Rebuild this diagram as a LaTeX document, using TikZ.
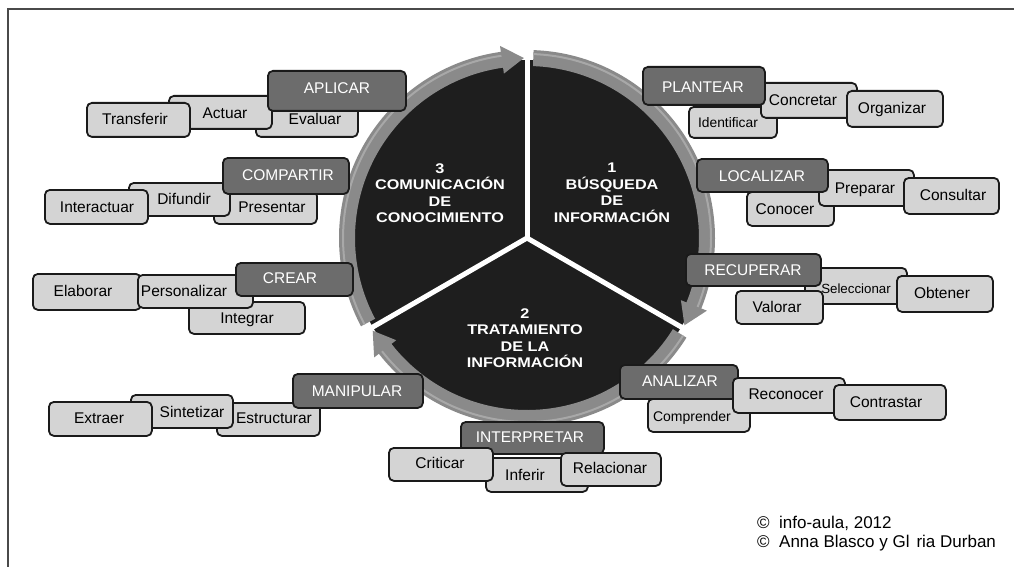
\documentclass[tikz,border=0pt]{standalone}
\usepackage{fontspec}
\setmainfont{Liberation Sans}
\usepackage{graphicx}
\definecolor{boxlight}{HTML}{D4D4D4}
\definecolor{boxdark}{HTML}{6C6C6C}
\definecolor{boxline}{HTML}{1A1A1A}
\definecolor{ringgray}{HTML}{8A8A8A}
\definecolor{ringlight}{HTML}{A8A8A8}
\definecolor{pieDark}{HTML}{1E1E1E}
\definecolor{framecol}{HTML}{4A4A4A}
\newcommand\wideline[1]{\scalebox{1.16}[1]{#1}}
\newcommand\bx[9]{%
  \node[#1, minimum width={#5-#3}, minimum height={#6-#4}, anchor=north west] (#2box) at (#3,#4) {};
  \node[#1txt] (#2) at (#7,#8) {#9};}
\begin{document}
\begin{tikzpicture}[x=1pt,y=-1pt,
  lb/.style={draw=boxline, line width=1.8pt, fill=boxlight, rounded corners=5pt, inner sep=0pt},
  db/.style={draw=boxline, line width=1.8pt, fill=boxdark, rounded corners=5pt, inner sep=0pt},
  lbtxt/.style={font=\fontsize{15.5}{18}\selectfont, text=black, inner sep=0pt, text height=11pt, text depth=0pt},
  dbtxt/.style={font=\fontsize{15.5}{18}\selectfont, text=white, inner sep=0pt, text height=11pt, text depth=0pt},
  sectxt/.style={font=\fontsize{14}{16.5}\selectfont\bfseries, text=white, align=center, inner sep=0pt},
  ringband/.style={fill=ringgray},
  gapline/.style={draw=white, line width=5pt},
  credit/.style={font=\fontsize{17}{20}\selectfont, anchor=west, inner sep=0pt}
]
\useasboundingbox[fill=white] (0,0) rectangle (1014,567);
\draw[framecol, line width=1.2pt] (8,567) -- (8,9) -- (1014,9);

% the cycle
\begin{scope}[shift={(527,238)}, y=1pt]
  \fill[pieDark] (0,0) circle[radius=178];
  \foreach \sa/\ea in {88/-22, 208/98, 328/218}{
    \fill[ringband] (\sa:172) -- (\sa:188) arc[start angle=\sa, end angle=\ea, radius=188]
      -- (\ea:194) -- ({\ea-7}:180) -- (\ea:166) -- (\ea:172)
      arc[start angle=\ea, end angle=\sa, radius=172] -- cycle;
    \draw[ringlight, line width=2pt] (\sa:184) arc[start angle=\sa, end angle=\ea, radius=184];
  }
  \draw[gapline] (0,0) -- (90:200);
  \draw[gapline] (0,0) -- (210:200);
  \draw[gapline] (0,0) -- (330:200);
\end{scope}

\node[sectxt] (s3) at (440,193) {\wideline{3}\\\wideline{COMUNICACIÓN}\\\wideline{DE}\\\wideline{CONOCIMIENTO}};
\node[sectxt] (s1) at (612,193) {\wideline{1}\\\wideline{BÚSQUEDA}\\\wideline{DE}\\\wideline{INFORMACIÓN}};
\node[sectxt] (s2) at (525,338) {\wideline{2}\\\wideline{TRATAMIENTO}\\\wideline{DE LA}\\\wideline{INFORMACIÓN}};

% APLICAR
\bx{lb}{evaluar}{255}{103}{357}{136}{315}{119}{Evaluar}
\bx{lb}{actuar}{168}{95}{271}{128}{225}{113}{Actuar}
\bx{lb}{transferir}{86}{102}{189}{136}{135}{119}{Transferir}
\bx{db}{aplicar}{267}{70}{405}{110}{337}{88}{APLICAR}
% COMPARTIR
\bx{lb}{presentar}{213}{190}{316}{223}{272}{207}{Presentar}
\bx{lb}{difundir}{128}{182}{229}{215}{184}{199}{Difundir}
\bx{lb}{interactuar}{44}{189}{147}{223}{97}{207}{Interactuar}
\bx{db}{compartir}{222}{157}{348}{193}{288}{175}{COMPARTIR}
% CREAR
\bx{lb}{integrar}{188}{301}{304}{333}{247}{318}{Integrar}
\bx{lb}{elaborar}{32}{273}{140}{309}{83}{291}{Elaborar}
\bx{lb}{personalizar}{137}{274}{252}{307}{184}{291}{Personalizar}
\bx{db}{crear}{235}{262}{352}{295}{290}{278}{CREAR}
% MANIPULAR
\bx{lb}{estructurar}{216}{402}{319}{435}{274}{418}{Estructurar}
\bx{lb}{sintetizar}{130}{394}{232}{427}{192}{412}{Sintetizar}
\bx{lb}{extraer}{48}{401}{151}{435}{99}{418}{Extraer}
\bx{db}{manipular}{292}{373}{422}{407}{357}{391}{MANIPULAR}
% INTERPRETAR
\bx{lb}{inferir}{485}{457}{587}{491}{525}{475}{Inferir}
\bx{db}{interpretar}{460}{421}{603}{453}{530}{437}{INTERPRETAR}
\bx{lb}{criticar}{388}{447}{492}{480}{440}{463}{Criticar}
\bx{lb}{relacionar}{560}{452}{660}{485}{610}{468}{Relacionar}
% ANALIZAR
\bx{lb}{comprender}{647}{398}{749}{431}{692}{416}{\fontsize{14}{16}\selectfont Comprender}
\bx{db}{analizar}{619}{364}{737}{398}{680}{381}{ANALIZAR}
\bx{lb}{reconocer}{732}{377}{844}{412}{786}{394}{Reconocer}
\bx{lb}{contrastar}{833}{384}{945}{419}{886}{402}{Contrastar}
% RECUPERAR
\bx{lb}{seleccionar}{804}{267}{906}{303}{856}{288}{\fontsize{13.3}{16}\selectfont Seleccionar}
\bx{lb}{obtener}{896}{275}{992}{311}{942}{293}{Obtener}
\bx{lb}{valorar}{735}{290}{822}{323}{777}{307}{Valorar}
\bx{db}{recuperar}{685}{253}{820}{285}{753}{270}{RECUPERAR}
% PLANTEAR
\bx{lb}{identificar}{688}{106}{776}{137}{728}{122}{\fontsize{13.8}{16}\selectfont Identificar}
\bx{lb}{concretar}{760}{82}{856}{117}{803}{100}{Concretar}
\bx{lb}{organizar}{846}{90}{942}{126}{892}{108}{Organizar}
\bx{db}{plantear}{642}{66}{764}{104}{703}{87}{PLANTEAR}
% LOCALIZAR
\bx{lb}{conocer}{746}{191}{833}{225}{785}{209}{Conocer}
\bx{lb}{preparar}{818}{169}{913}{205}{865}{188}{Preparar}
\bx{lb}{consultar}{903}{177}{998}{213}{953}{195}{Consultar}
\bx{db}{localizar}{696}{158}{827}{191}{762}{176}{LOCALIZAR}

\node[credit] (c1) at (757,523) {©\ \ info-aula, 2012};
\node[credit] (c2) at (757,543) {©\ \ Anna Blasco y Gl\hspace{7pt}ria Durban};
\end{tikzpicture}
\end{document}
